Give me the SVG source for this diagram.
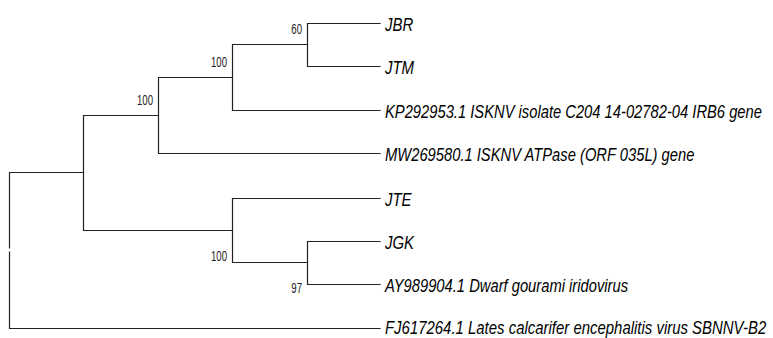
<svg xmlns="http://www.w3.org/2000/svg" width="773" height="338" viewBox="0 0 773 338">
<style>
.br{fill:none;stroke:#222;stroke-width:1.2;stroke-linecap:square}
.tx{font-family:"Liberation Sans",Arial,sans-serif;font-style:italic;font-size:18px;fill:#000}
.bs{font-family:"Liberation Sans",Arial,sans-serif;font-size:15.5px;fill:#222;text-anchor:end}
</style>
<rect width="773" height="338" fill="#fff"/>
<g id="connectors">
<path class="br" d="M307.5 23.5V66.5M307.5 23.5H380M307.5 66.5H380"/>
<path class="br" d="M232.5 44.5H307.5M232.5 44.5V110.5M232.5 110.5H380"/>
<path class="br" d="M158.5 77.5H232.5M158.5 77.5V153.5M158.5 153.5H380"/>
<path class="br" d="M83.5 115.5H158.5M83.5 115.5V230.5M83.5 230.5H232.5"/>
<path class="br" d="M232.5 198.5V262.5M232.5 198.5H380M232.5 262.5H307.5"/>
<path class="br" d="M307.5 241.5V284.5M307.5 241.5H380M307.5 284.5H380"/>
<path class="br" d="M9.5 172.5H83.5M9.5 172.5V248M9.5 252V328.5M9.5 328.5H380"/>
</g>
<g id="JBR"><text class="tx" transform="translate(385,31) scale(0.83,1)">JBR</text></g>
<g id="JTM"><text class="tx" transform="translate(385,74) scale(0.83,1)">JTM</text></g>
<g id="KP292953"><text class="tx" transform="translate(385,118) scale(0.82,1)">KP292953.1 ISKNV isolate C204 14-02782-04 IRB6 gene</text></g>
<g id="MW269580"><text class="tx" transform="translate(385,161) scale(0.82,1)">MW269580.1 ISKNV ATPase (ORF 035L) gene</text></g>
<g id="JTE"><text class="tx" transform="translate(385,206) scale(0.83,1)">JTE</text></g>
<g id="JGK"><text class="tx" transform="translate(385,249) scale(0.83,1)">JGK</text></g>
<g id="AY989904"><text class="tx" transform="translate(385,292) scale(0.82,1)">AY989904.1 Dwarf gourami iridovirus</text></g>
<g id="FJ617264"><text class="tx" transform="translate(385,334) scale(0.83,1)">FJ617264.1 Lates calcarifer encephalitis virus SBNNV-B2</text></g>
<g id="n60"><text class="bs" transform="translate(302,34) scale(0.62,1)">60</text></g>
<g id="n100a"><text class="bs" transform="translate(227,67) scale(0.62,1)">100</text></g>
<g id="n100b"><text class="bs" transform="translate(153,105) scale(0.62,1)">100</text></g>
<g id="n100c"><text class="bs" transform="translate(227,261) scale(0.62,1)">100</text></g>
<g id="n97"><text class="bs" transform="translate(302,293) scale(0.62,1)">97</text></g>
</svg>
